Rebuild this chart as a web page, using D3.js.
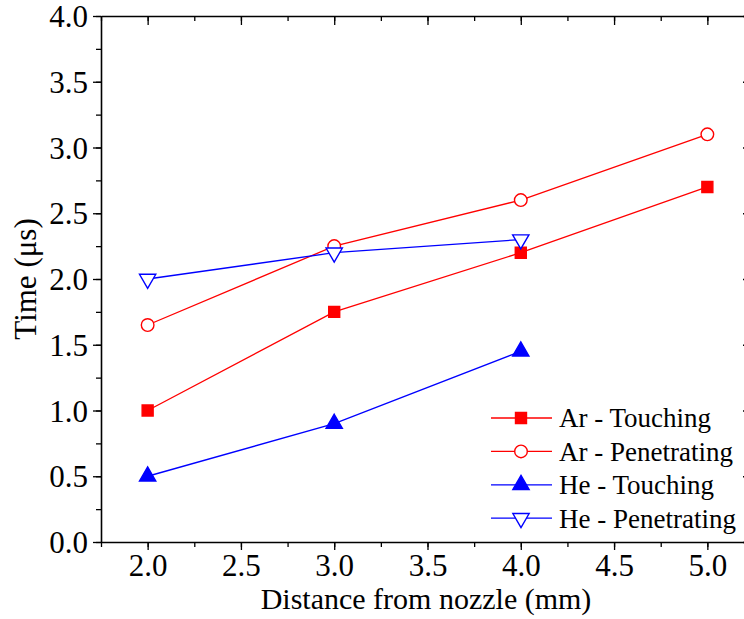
<!DOCTYPE html>
<html>
<head>
<meta charset="utf-8">
<script src="https://cdn.jsdelivr.net/npm/d3@7"></script>
<style>
  body { margin: 0; background: #fff; }
  svg { display: block; }
</style>
</head>
<body>
<div id="chart"></div>
<script>
// data
const distance = [2.0, 3.0, 4.0, 5.0];
const arTouching = [1.0, 1.75, 2.2, 2.7];
const arPenetrating = [1.65, 2.25, 2.6, 3.1];
const heTouching = [0.5, 0.9, 1.45];
const hePenetrating = [2.0, 2.2, 2.3];
const xTicks = [2.0, 2.5, 3.0, 3.5, 4.0, 4.5, 5.0];
const yTicks = [0.0, 0.5, 1.0, 1.5, 2.0, 2.5, 3.0, 3.5, 4.0];

const series = [
  { name: 'Ar - Touching', values: arTouching, color: '#ff0000', symbol: 'square', fill: true },
  { name: 'Ar - Penetrating', values: arPenetrating, color: '#ff0000', symbol: 'circle', fill: false },
  { name: 'He - Touching', values: heTouching, color: '#0000ff', symbol: 'triangle', fill: true },
  { name: 'He - Penetrating', values: hePenetrating, color: '#0000ff', symbol: 'triangleDown', fill: false },
];

const FONT = "'Liberation Serif', 'Times New Roman', serif";
const W = 744, H = 619;
const margin = { top: 16, right: -10, bottom: 77, left: 101 };
const width = W - margin.left - margin.right;
const height = H - margin.top - margin.bottom;

const svg = d3.select('#chart').append('svg')
  .attr('width', W)
  .attr('height', H)
  .style('font-family', FONT);

const g = svg.append('g')
  .attr('transform', `translate(${margin.left}, ${margin.top})`);

const x = d3.scaleLinear().domain([1.75, 5.25]).range([0, width]);
const y = d3.scaleLinear().domain([0, 4]).range([height, 0]);

const minorX = d3.range(1.75, 5.26, 0.25);
const minorY = d3.range(0, 4.01, 0.25);

// bottom axis
const xAxis = g.append('g')
  .attr('transform', `translate(0, ${height})`)
  .call(d3.axisBottom(x).tickValues(xTicks).tickFormat(d3.format('.1f')).tickSize(8).tickSizeOuter(0));
g.append('g')
  .attr('transform', `translate(0, ${height})`)
  .call(d3.axisBottom(x).tickValues(minorX).tickFormat('').tickSize(5).tickSizeOuter(0))
  .select('.domain').remove();

// left axis
const yAxis = g.append('g')
  .call(d3.axisLeft(y).tickValues(yTicks).tickFormat(d3.format('.1f')).tickSize(8).tickSizeOuter(0));
g.append('g')
  .call(d3.axisLeft(y).tickValues(minorY).tickFormat('').tickSize(5).tickSizeOuter(0))
  .select('.domain').remove();

// top axis, ticks inward
g.append('g')
  .call(d3.axisTop(x).tickValues(xTicks).tickFormat('').tickSize(-9).tickSizeOuter(0));
g.append('g')
  .call(d3.axisTop(x).tickValues(minorX).tickFormat('').tickSize(-5).tickSizeOuter(0))
  .select('.domain').remove();

// right axis, ticks inward
g.append('g')
  .attr('transform', `translate(${width}, 0)`)
  .call(d3.axisRight(y).tickValues(yTicks).tickFormat('').tickSize(-11).tickSizeOuter(0));

g.selectAll('g').attr('font-family', FONT).attr('font-size', 31);
g.selectAll('.domain').attr('stroke', '#000').attr('stroke-width', 1.6);
g.selectAll('.tick line').attr('stroke', '#000').attr('stroke-width', 1.3);
g.selectAll('.tick text').attr('fill', '#000');
xAxis.selectAll('.tick text').attr('y', 0).attr('dy', null).attr('transform', `translate(0, ${576 - 542})`);
yAxis.selectAll('.tick text').attr('x', -13).attr('dy', '0.34em');

// axis titles
svg.append('text')
  .attr('x', 426)
  .attr('y', 609)
  .attr('text-anchor', 'middle')
  .attr('font-size', 30)
  .text('Distance from nozzle (mm)');

svg.append('text')
  .attr('transform', `translate(36, 279) rotate(-90)`)
  .attr('text-anchor', 'middle')
  .attr('font-size', 31)
  .text('Time (\u03bcs)');

function symbolPath(sym) {
  if (sym === 'square') return d3.symbol(d3.symbolSquare, 121)();
  if (sym === 'circle') return d3.symbol(d3.symbolCircle, 125)();
  return d3.symbol(d3.symbolTriangle, 115)();
}

function drawMarker(sel, s) {
  sel.append('path')
    .attr('d', symbolPath(s.symbol))
    .attr('transform', s.symbol === 'triangleDown' ? 'rotate(180)' : null)
    .attr('fill', s.fill ? s.color : '#fff')
    .attr('stroke', s.color)
    .attr('stroke-width', 1.4);
}

const line = d3.line()
  .x((d, i) => x(distance[i]))
  .y((d) => y(d));

series.forEach((s) => {
  g.append('path')
    .datum(s.values)
    .attr('fill', 'none')
    .attr('stroke', s.color)
    .attr('stroke-width', 1.3)
    .attr('d', line);

  s.values.forEach((v, i) => {
    const m = g.append('g')
      .attr('transform', `translate(${x(distance[i])}, ${y(v)})`);
    drawMarker(m, s);
  });
});

// legend
const legend = svg.append('g').attr('transform', 'translate(491, 418)');
series.forEach((s, i) => {
  const row = legend.append('g').attr('transform', `translate(0, ${i * 33.4})`);
  row.append('line')
    .attr('x1', 0).attr('x2', 61)
    .attr('stroke', s.color)
    .attr('stroke-width', 1.3);
  const m = row.append('g').attr('transform', 'translate(30, 0)');
  drawMarker(m, s);
  row.append('text')
    .attr('x', 68)
    .attr('dy', '0.35em')
    .attr('font-size', 27)
    .text(s.name);
});
</script>
</body>
</html>
